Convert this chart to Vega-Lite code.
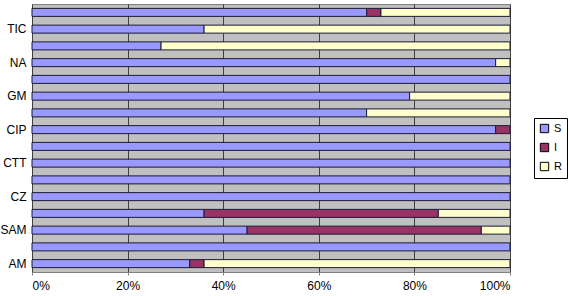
{
  "$schema": "https://vega.github.io/schema/vega-lite/v6.json",
  "autosize": "none",
  "width": 478,
  "height": 268,
  "padding": {"left": 32, "top": 4, "right": 60, "bottom": 24},
  "background": "white",
  "config": {
    "font": "Liberation Sans",
    "view": {"fill": "#C0C0C0", "stroke": "#808080", "strokeWidth": 1}
  },
  "data": {
    "values": [
      {"drug": "C", "res": "S", "k": 1, "pct": 0.70},
      {"drug": "C", "res": "I", "k": 2, "pct": 0.03},
      {"drug": "C", "res": "R", "k": 3, "pct": 0.27},
      {"drug": "TIC", "res": "S", "k": 1, "pct": 0.36},
      {"drug": "TIC", "res": "R", "k": 3, "pct": 0.64},
      {"drug": "SXT", "res": "S", "k": 1, "pct": 0.27},
      {"drug": "SXT", "res": "R", "k": 3, "pct": 0.73},
      {"drug": "NA", "res": "S", "k": 1, "pct": 0.97},
      {"drug": "NA", "res": "R", "k": 3, "pct": 0.03},
      {"drug": "TE", "res": "S", "k": 1, "pct": 1.0},
      {"drug": "GM", "res": "S", "k": 1, "pct": 0.79},
      {"drug": "GM", "res": "R", "k": 3, "pct": 0.21},
      {"drug": "AN", "res": "S", "k": 1, "pct": 0.70},
      {"drug": "AN", "res": "R", "k": 3, "pct": 0.30},
      {"drug": "CIP", "res": "S", "k": 1, "pct": 0.97},
      {"drug": "CIP", "res": "I", "k": 2, "pct": 0.03},
      {"drug": "CAZ", "res": "S", "k": 1, "pct": 1.0},
      {"drug": "CTT", "res": "S", "k": 1, "pct": 1.0},
      {"drug": "CRO", "res": "S", "k": 1, "pct": 1.0},
      {"drug": "CZ", "res": "S", "k": 1, "pct": 1.0},
      {"drug": "FOX", "res": "S", "k": 1, "pct": 0.36},
      {"drug": "FOX", "res": "I", "k": 2, "pct": 0.49},
      {"drug": "FOX", "res": "R", "k": 3, "pct": 0.15},
      {"drug": "SAM", "res": "S", "k": 1, "pct": 0.45},
      {"drug": "SAM", "res": "I", "k": 2, "pct": 0.49},
      {"drug": "SAM", "res": "R", "k": 3, "pct": 0.06},
      {"drug": "AMC", "res": "S", "k": 1, "pct": 1.0},
      {"drug": "AM", "res": "S", "k": 1, "pct": 0.33},
      {"drug": "AM", "res": "I", "k": 2, "pct": 0.03},
      {"drug": "AM", "res": "R", "k": 3, "pct": 0.64}
    ]
  },
  "mark": {"type": "bar", "height": 8, "stroke": "#1a1a33", "strokeWidth": 1},
  "encoding": {
    "y": {
      "field": "drug",
      "type": "nominal",
      "sort": ["C", "TIC", "SXT", "NA", "TE", "GM", "AN", "CIP", "CAZ", "CTT", "CRO", "CZ", "FOX", "SAM", "AMC", "AM"],
      "axis": {
        "title": null,
        "ticks": false,
        "domain": false,
        "labelFontSize": 12,
        "labelColor": "#000",
        "labelPadding": 6,
        "labelExpr": "indexof(['TIC','NA','GM','CIP','CTT','CZ','SAM','AM'], datum.value) >= 0 ? datum.value : ''"
      }
    },
    "x": {
      "field": "pct",
      "type": "quantitative",
      "stack": "zero",
      "scale": {"domain": [0, 1], "nice": false},
      "axis": {
        "title": null,
        "format": ".0%",
        "values": [0, 0.2, 0.4, 0.6, 0.8, 1],
        "grid": true,
        "gridColor": "#404040",
        "gridWidth": 1,
        "domainColor": "#808080",
        "tickColor": "#808080",
        "tickSize": 3,
        "labelFontSize": 12,
        "labelColor": "#000",
        "labelPadding": 5
      }
    },
    "order": {"field": "k", "type": "quantitative"},
    "color": {
      "field": "res",
      "type": "nominal",
      "scale": {"domain": ["S", "I", "R"], "range": ["#9999FF", "#993366", "#FFFFCC"]},
      "legend": {
        "title": null,
        "orient": "none",
        "legendX": 502,
        "legendY": 114,
        "symbolType": "square",
        "symbolSize": 70,
        "symbolStrokeColor": "#000",
        "symbolStrokeWidth": 1,
        "labelFontSize": 11,
        "labelColor": "#000",
        "rowPadding": 6,
        "padding": 5,
        "strokeColor": "#000",
        "fillColor": "white"
      }
    }
  }
}
